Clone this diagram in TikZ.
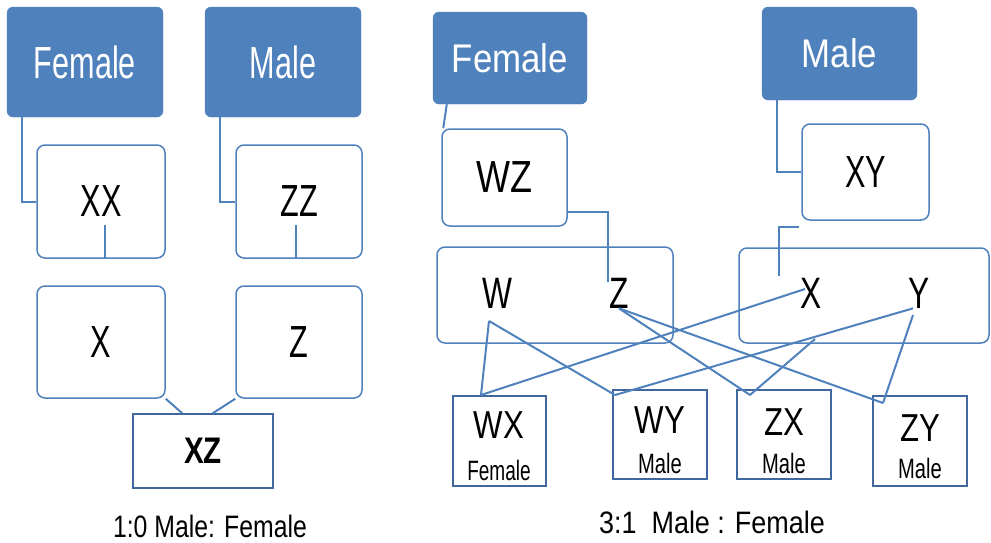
\documentclass[tikz,border=0pt]{standalone}
\usepackage{fontspec}
\setmainfont{Liberation Sans}[FakeStretch=0.72]
\newfontfamily\narrowfont{Liberation Sans}[FakeStretch=0.68]
\newfontfamily\medfont{Liberation Sans}[FakeStretch=0.8]
\newfontfamily\widefont{Liberation Sans}[FakeStretch=0.87]
\usetikzlibrary{positioning, calc}
\definecolor{hdblue}{HTML}{4F81BD}
\definecolor{edgeblue}{HTML}{41689E}

\begin{document}
\begin{tikzpicture}[x=1pt, y=-1pt,
    head/.style={fill=hdblue, draw=hdblue, rounded corners=6pt, text=white, inner sep=0pt},
    gbox/.style={draw=hdblue, line width=1.5pt, rounded corners=8pt, fill=white, inner sep=0pt},
    kid/.style={draw=edgeblue, line width=1.5pt, fill=white, inner sep=0pt},
    link/.style={draw=hdblue, line width=2pt},
    hugeN/.style={font=\narrowfont\fontsize{45}{50}\selectfont, inner sep=0pt},
    hugeM/.style={font=\medfont\fontsize{45}{50}\selectfont, inner sep=0pt},
    huge/.style={font=\fontsize{44}{50}\selectfont, inner sep=0pt},
    large/.style={font=\widefont\fontsize{40}{46}\selectfont, inner sep=0pt},
    mid/.style={font=\medfont\fontsize{39}{44}\selectfont, inner sep=0pt},
    tiny/.style={font=\fontsize{28}{32}\selectfont, inner sep=0pt},
    tinyN/.style={font=\narrowfont\fontsize{28}{32}\selectfont, inner sep=0pt},
    captionM/.style={font=\medfont\fontsize{31}{36}\selectfont, inner sep=0pt},
    captionW/.style={font=\widefont\fontsize{31}{36}\selectfont, inner sep=0pt}]
    \useasboundingbox (0,0) rectangle (991,542);

    % 1:0 cross (left)
    \node[head, hugeN, minimum width=156pt, minimum height=110pt] (fem1) at (85,62) {Female};
    \node[head, hugeN, minimum width=156pt, minimum height=110pt] (mal1) at (283,62) {Male};
    \node[gbox, hugeN, minimum width=128pt, minimum height=113pt] (XX) at (101,201.5) {XX};
    \node[gbox, hugeN, minimum width=126pt, minimum height=113pt] (ZZ) at (299,201.5) {ZZ};
    \node[gbox, hugeN, minimum width=128pt, minimum height=112pt] (X) at (101,342) {X};
    \node[gbox, hugeN, minimum width=126pt, minimum height=112pt] (Z) at (299,342) {Z};
    \node[kid, font=\medfont\fontsize{37}{42}\selectfont\bfseries, minimum width=140pt, minimum height=74pt] (XZ) at (203,451) {XZ};
    \node[captionM] (ratio1) at (210,526) {1:0 Male: Female};

    \draw[link] ([xshift=15pt]fem1.south west) |- (XX.west);
    \draw[link] ([xshift=15pt]mal1.south west) |- (ZZ.west);
    \draw[link] ([xshift=4pt]XX.south) -- ++(0,-34);
    \draw[link] ([xshift=-3pt]ZZ.south) -- ++(0,-34);
    \draw[link] (X.south east) -- ([xshift=50pt]XZ.north west);
    \draw[link] (Z.south west) -- ([xshift=-61pt]XZ.north east);

    % 3:1 cross (right)
    \node[head, large, minimum width=154pt, minimum height=92pt] (fem2) at (510,58) {Female};
    \node[head, large, minimum width=155pt, minimum height=93pt] (mal2) at (839.5,53.5) {Male};
    \node[gbox, hugeM, minimum width=125pt, minimum height=97pt] (WZ) at (504.5,177.5) {WZ};
    \node[gbox, hugeN, minimum width=127pt, minimum height=96pt] (XY) at (865.5,172) {XY};
    \node[gbox, minimum width=236pt, minimum height=96pt] (gamF) at (555,295) {};
    \node[gbox, minimum width=250pt, minimum height=95pt] (gamM) at (864,295.5) {};
    \node[huge] (Wg) at (497,293) {W};
    \node[huge] (Zg) at (619,293) {Z};
    \node[huge] (Xg) at (811,293) {X};
    \node[huge] (Yg) at (919,293) {Y};

    \node[kid, minimum width=93pt, minimum height=90pt] (WX) at (499.5,441) {};
    \node[kid, minimum width=94pt, minimum height=89pt] (WY) at (660,434.5) {};
    \node[kid, minimum width=94pt, minimum height=89pt] (ZX) at (784,434.5) {};
    \node[kid, minimum width=94pt, minimum height=90pt] (ZY) at (920,441) {};
    \node[mid] (WXt) at (499,425.5) {WX};
    \node[tinyN] (WXs) at (499,470) {Female};
    \node[mid] (WYt) at (660,420) {WY};
    \node[tiny] (WYs) at (660,463) {Male};
    \node[mid] (ZXt) at (784,422) {ZX};
    \node[tiny] (ZXs) at (784,463) {Male};
    \node[mid] (ZYt) at (920,428) {ZY};
    \node[tiny] (ZYs) at (920,468) {Male};
    \node[captionW] (ratio2) at (712,522) {3:1\ \ Male : Female};

    \coordinate (zknot) at (608,282);
    \coordinate (xknot) at (779,276);
    \coordinate (wfoot) at (489,321);
    \coordinate (xfoot) at (805,289);
    \coordinate (xbase) at (815,339);
    \coordinate (yfoot) at (913,315);
    \coordinate (wxtop) at (481,395);
    \coordinate (wytop) at (615,395);
    \coordinate (zxtop) at (750,395);
    \coordinate (zytop) at (883,403);

    \draw[link] ([xshift=14pt]fem2.south west) -- ([xshift=2pt]WZ.north west);
    \draw[link] ([yshift=-34.5pt]WZ.east) -| (zknot);
    \draw[link] ([xshift=15pt]mal2.south west) |- (XY.west);
    \draw[link] ([xshift=-2pt,yshift=-6pt]XY.south west) -| (xknot);

    \draw[link] (wfoot) -- (wxtop);
    \draw[link] (wfoot) -- (wytop);
    \draw[link] (Zg.south) -- (zxtop);
    \draw[link] (Zg.south) -- (zytop);
    \draw[link] (xfoot) -- (wxtop);
    \draw[link] (xbase) -- (zxtop);
    \draw[link] ([xshift=-6pt]Yg.south) -- (wytop);
    \draw[link] (yfoot) -- (zytop);
\end{tikzpicture}
\end{document}
